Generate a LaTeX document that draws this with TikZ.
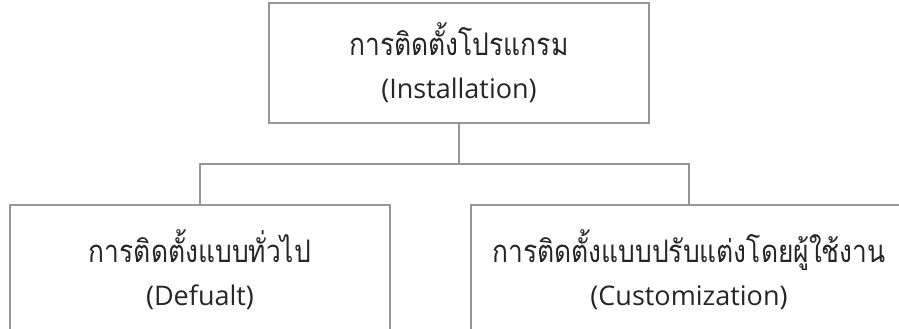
\documentclass[tikz,border=0pt]{standalone}
\usepackage{fontspec}
\setmainfont{Open Sans}
\newfontfamily\thaifont[Script=Thai, Scale=1.15, FakeStretch=0.85]{Loma}
\usetikzlibrary{positioning}
\definecolor{boxgray}{RGB}{150,150,150}

\begin{document}
\begin{tikzpicture}[font=\fontsize{27}{43}\selectfont,
  stage/.style={
    draw=boxgray,
    line width=2pt,
    rectangle,
    minimum width=380pt,
    minimum height=120pt,
    align=center,
    text=black!85
  },
  link/.style={draw=boxgray, line width=2pt},
  node distance=80pt
  ]
\useasboundingbox (0,0) rectangle (899pt,-329pt);

% Root
\node[stage] (install) at (459pt,-63pt) {{\thaifont การติดตั้งโปรแกรม}\\(Installation)};

% Install modes
\node[stage, minimum height=130pt, below=of install, xshift=-259pt] (default) {{\thaifont การติดตั้งแบบทั่วไป}\\(Defualt)};
\node[stage, minimum width=436pt, minimum height=130pt, below=of install, xshift=230pt] (custom) {{\thaifont การติดตั้งแบบปรับแต่งโดยผู้ใช้งาน}\\(Customization)};

% Tree lines
\coordinate[below=40pt of install] (bus);
\draw[link] (install) -- (bus);
\draw[link] (bus) -| (default);
\draw[link] (bus) -| (custom);

\end{tikzpicture}
\end{document}
